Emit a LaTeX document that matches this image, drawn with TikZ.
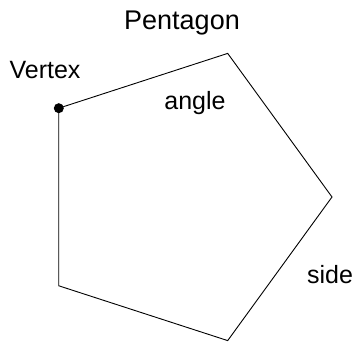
\documentclass[tikz,border=0pt]{standalone}
\usepackage{fontspec}
\setmainfont{Liberation Sans}
\begin{document}
\begin{tikzpicture}[x=1pt,y=-1pt,
  lbl/.style={anchor=base,inner sep=0pt,font=\fontsize{25}{27}\selectfont},
  edge/.style={line width=0.9pt}]
\useasboundingbox (0,0) rectangle (360,342);
\coordinate (c) at (181,197);
\coordinate (p0) at (332,197);
\coordinate (p1) at (227.7,53.4);
\coordinate (p2) at (58.8,108.2);
\coordinate (p3) at (58.8,285.8);
\coordinate (p4) at (227.7,340.6);
\draw[edge] (p0) -- (p1) -- (p2) -- (p3) -- (p4) -- cycle;
\fill (p2) circle (5);
\node[lbl,font=\fontsize{27}{29}\selectfont] (title) at (182,30) {Pentagon};
\node[lbl] (vertex) at (45,79) {Vertex};
\node[lbl] (angle) at (195,110) {angle};
\node[lbl] (side) at (330,284) {side};
\end{tikzpicture}
\end{document}
